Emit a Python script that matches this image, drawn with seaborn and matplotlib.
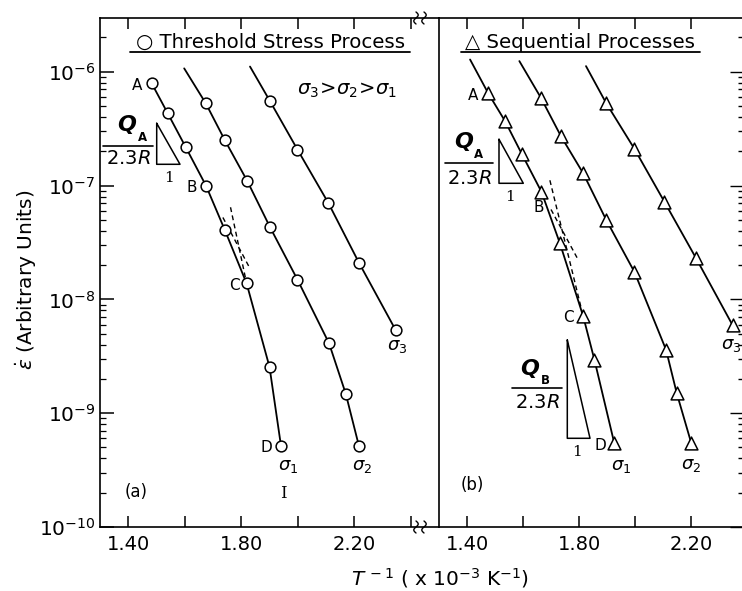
import numpy as np
import pandas as pd
import matplotlib
matplotlib.use("Agg")
import matplotlib.pyplot as plt
import seaborn as sns
from matplotlib.lines import Line2D
from matplotlib.ticker import (FixedLocator, FixedFormatter, LogLocator, NullFormatter,
                               LogFormatterSciNotation)

sns.set_theme(style="white")
plt.rcParams["font.family"] = ["DejaVu Sans"]
plt.rcParams["mathtext.fontset"] = "dejavusans"

# ---------------- data ----------------
# panel (a): threshold stress process (circles)
a_s1_x = [1.483, 1.540, 1.604, 1.675, 1.742, 1.819, 1.900, 1.941]
a_s1_y = [7.9e-7, 4.3e-7, 2.16e-7, 1.0e-7, 4.06e-8, 1.38e-8, 2.55e-9, 5.1e-10]
a_s2_x = [1.674, 1.742, 1.821, 1.902, 1.999, 2.111, 2.170, 2.217]
a_s2_y = [5.3e-7, 2.5e-7, 1.1e-7, 4.3e-8, 1.49e-8, 4.1e-9, 1.48e-9, 5.1e-10]
a_s3_x = [1.902, 1.999, 2.108, 2.217, 2.347]
a_s3_y = [5.5e-7, 2.07e-7, 7.05e-8, 2.09e-8, 5.35e-9]
# upper ends of the fitted curves (beyond the first point)
a_start_x = [None, 1.598, 1.831]
a_start_y = [None, 1.07e-6, 1.11e-6]

# panel (b): sequential processes (triangles)
b_s1_x = [1.476, 1.536, 1.595, 1.666, 1.732, 1.815, 1.855, 1.926]
b_s1_y = [6.45e-7, 3.68e-7, 1.91e-7, 8.8e-8, 3.1e-8, 7.1e-9, 2.95e-9, 5.45e-10]
b_s2_x = [1.664, 1.736, 1.815, 1.897, 1.998, 2.111, 2.149, 2.201]
b_s2_y = [5.9e-7, 2.7e-7, 1.28e-7, 5.0e-8, 1.74e-8, 3.6e-9, 1.5e-9, 5.45e-10]
b_s3_x = [1.897, 1.998, 2.105, 2.218, 2.349]
b_s3_y = [5.3e-7, 2.1e-7, 7.2e-8, 2.3e-8, 5.9e-9]
b_start_x = [1.411, 1.587, 1.825]
b_start_y = [1.28e-6, 1.24e-6, 1.12e-6]

# dashed extrapolations: x-range of A-B extension and of C-D extension
a_dash_ab = [1.735, 1.830]
a_dash_cd = [1.762, 1.819]
b_dash_ab = [1.700, 1.793]
b_dash_cd = [1.696, 1.815]

left_xticks = [1.40, 1.60, 1.80, 2.00, 2.20, 2.40]
left_xlabels = ["1.40", "", "1.80", "", "2.20", ""]
right_xticks = [1.40, 1.60, 1.80, 2.00, 2.20]
right_xlabels = ["1.40", "", "1.80", "", "2.20"]
y_major = [1e-10, 1e-9, 1e-8, 1e-7, 1e-6]

# ---------------- figure ----------------
W, H = 742, 591
fig = plt.figure(figsize=(W / 100, H / 100), dpi=100)
fig.patch.set_facecolor("white")
axL = fig.add_axes([100 / W, 1 - 527 / H, 339 / W, 509 / H])
axR = fig.add_axes([439 / W, 1 - 527 / H, 305 / W, 509 / H])


def F(px, py):
    return (px / W, 1 - py / H)


def build(series_x, series_y, starts_x, starts_y):
    curves, pts = [], []
    for i, (xs, ys) in enumerate(zip(series_x, series_y)):
        cx, cy = list(xs), list(ys)
        if starts_x[i] is not None:
            cx = [starts_x[i]] + cx
            cy = [starts_y[i]] + cy
        curves.append(pd.DataFrame({"x": cx, "y": cy, "s": f"s{i+1}"}))
        pts.append(pd.DataFrame({"x": xs, "y": ys, "s": f"s{i+1}"}))
    return pd.concat(curves, ignore_index=True), pd.concat(pts, ignore_index=True)


def dashed(ax, xs, ys, i0, i1, xr):
    # straight line in (x, log y) through points i0, i1
    lx = np.log10([ys[i0], ys[i1]])
    slope = (lx[1] - lx[0]) / (xs[i1] - xs[i0])
    xx = np.array(xr)
    yy = 10 ** (lx[0] + slope * (xx - xs[i0]))
    ax.plot(xx, yy, color="black", lw=1.0, ls=(0, (3.5, 2.5)), zorder=2)


panels = [
    (axL, [a_s1_x, a_s2_x, a_s3_x], [a_s1_y, a_s2_y, a_s3_y], a_start_x, a_start_y,
     "o", 60, (1.30, 2.50), a_dash_ab, a_dash_cd),
    (axR, [b_s1_x, b_s2_x, b_s3_x], [b_s1_y, b_s2_y, b_s3_y], b_start_x, b_start_y,
     "^", 85, (1.30, 1.30 + 305 / 280), b_dash_ab, b_dash_cd),
]

for ax, sx, sy, stx, sty, mk, ms, xl, dab, dcd in panels:
    ax.set_yscale("log")
    curves, pts = build(sx, sy, stx, sty)
    sns.lineplot(data=curves, x="x", y="y", units="s", estimator=None, sort=False,
                 color="black", lw=1.3, ax=ax, legend=False, zorder=2)
    sns.scatterplot(data=pts, x="x", y="y", marker=mk, s=ms, facecolor="white",
                    edgecolor="black", linewidth=1.1, ax=ax, legend=False, zorder=3)
    dashed(ax, sx[0], sy[0], 0, 3, dab)
    dashed(ax, sx[0], sy[0], 5, 7, dcd)
    ax.set_xlim(*xl)
    ax.set_ylim(1e-10, 10 ** -5.528)
    ax.set_xlabel("")
    ax.set_ylabel("")
    ax.set_facecolor("white")
    for sp in ax.spines.values():
        sp.set_color("black")
        sp.set_linewidth(1.2)
    ax.spines["right"].set_visible(False)

# x ticks
axL.xaxis.set_major_locator(FixedLocator(left_xticks))
axL.xaxis.set_major_formatter(FixedFormatter(left_xlabels))
axR.xaxis.set_major_locator(FixedLocator(right_xticks))
axR.xaxis.set_major_formatter(FixedFormatter(right_xlabels))
for ax in (axL, axR):
    ax.xaxis.set_minor_locator(FixedLocator([]))
    ax.tick_params(axis="x", which="major", direction="in", top=True, bottom=True,
                   length=8, width=1.1, color="black", labelsize=14, pad=6,
                   labelcolor="black")
    ax.yaxis.set_major_locator(FixedLocator(y_major))
    ax.yaxis.set_major_formatter(LogFormatterSciNotation())
    ax.yaxis.set_minor_locator(LogLocator(base=10, subs=np.arange(2, 10), numticks=20))
    ax.yaxis.set_minor_formatter(NullFormatter())

axL.tick_params(axis="y", which="major", direction="in", left=True, right=False,
                length=10, width=1.1, color="black", labelsize=14.5, pad=3,
                labelcolor="black")
axL.tick_params(axis="y", which="minor", direction="in", left=True, right=False,
                length=4, width=0.9, color="black")
axR.tick_params(axis="y", which="both", direction="in", left=False, right=True,
                labelleft=False, labelright=False, color="black", width=1.0)
axR.tick_params(axis="y", which="major", length=10)
axR.tick_params(axis="y", which="minor", length=4)

# ---------------- annotations ----------------
def txt(px, py, s, size=13, **kw):
    kw.setdefault("ha", "center")
    kw.setdefault("va", "center")
    fig.text(*F(px, py), s, fontsize=size, color="black", **kw)


def seg(pts, lw=1.1):
    xs = [p[0] / W for p in pts]
    ys = [1 - p[1] / H for p in pts]
    fig.add_artist(Line2D(xs, ys, transform=fig.transFigure, color="black", lw=lw))


# titles with underline
txt(271, 42, "\u25cb Threshold Stress Process", size=14.2)
seg([(130, 52), (410, 52)], lw=1.3)
txt(580, 42, "\u25b3 Sequential Processes", size=14.2)
seg([(461, 52), (700, 52)], lw=1.3)

txt(347, 90, r"$\sigma_3\!>\!\sigma_2\!>\!\sigma_1$", size=14)

# panel (a) labels
for lab, px, py in [("A", 137, 86), ("B", 192, 188), ("C", 234, 285), ("D", 266, 448)]:
    txt(px, py, lab, size=11)
txt(288, 466, r"$\sigma_1$", size=13)
txt(362, 466, r"$\sigma_2$", size=13)
txt(397, 346, r"$\sigma_3$", size=13)
txt(136, 492, "(a)", size=12)
txt(283, 493, "I", size=12, family="DejaVu Serif")

# panel (b) labels
for lab, px, py in [("A", 473, 95), ("B", 539, 208), ("C", 568, 317), ("D", 600, 445)]:
    txt(px, py, lab, size=11)
txt(621, 466, r"$\sigma_1$", size=13)
txt(691, 465, r"$\sigma_2$", size=13)
txt(731, 345, r"$\sigma_3$", size=13)
txt(472, 485, "(b)", size=12)


def slope_tri(q, sub, lx0, lx1, ly, r, tri, one):
    txt(q[0], q[1], "Q", size=16, fontweight="bold", fontstyle="italic")
    txt(q[0] + 15, q[1] + 12, sub, size=8.5, fontweight="bold")
    seg([(lx0, ly), (lx1, ly)], lw=1.2)
    txt(r[0], r[1], r"$2.3\mathit{R}$", size=14)
    seg(tri + [tri[0]], lw=1.1)
    txt(one[0], one[1], "1", size=11, family="DejaVu Serif")


slope_tri((127, 125), "A", 103, 153, 146, (128, 159),
          [(156.7, 123.3), (156.7, 164.3), (180, 164.3)], (169, 178))
slope_tri((464, 142), "A", 445, 493, 163, (469, 178),
          [(499, 139.3), (499, 183.3), (523.3, 183.3)], (510, 197))
slope_tri((530, 369), "B", 512, 562, 388, (537, 403),
          [(567.3, 340), (567.3, 438.3), (590, 438.3)], (577, 452))

# axis titles
fig.text(*F(26, 280), r"$\dot{\varepsilon}$ (Arbitrary Units)", rotation=90,
         ha="center", va="center", fontsize=14.5, color="black")
txt(440, 578, r"$\mathit{T}^{\,-1}$ ( x 10$^{-3}$ K$^{-1}$)", size=14.5)

# axis-break squiggles
for cy in (18, 527):
    for cx in (416, 424):
        t = np.linspace(-1, 1, 30)
        xs = cx + 2.2 * np.sin(np.pi * t)
        ys = cy - 6 * t
        seg(list(zip(xs, ys)), lw=1.0)

fig.savefig("out.png", dpi=100, facecolor="white")
